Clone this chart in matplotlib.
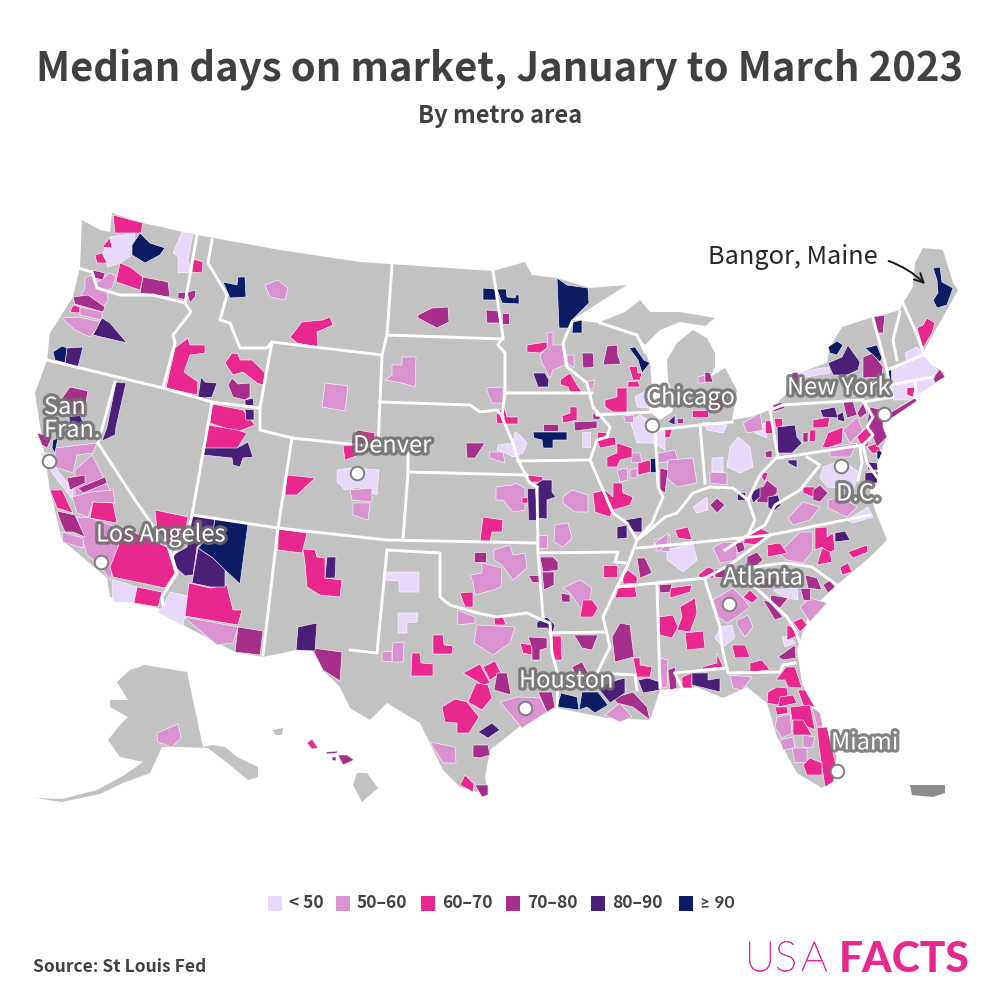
import matplotlib
matplotlib.use("Agg")
import matplotlib.pyplot as plt
import matplotlib.patheffects as pe
from matplotlib.patches import Polygon, FancyArrowPatch

TITLE = "Median days on market, January to March 2023"
SUBTITLE = "By metro area"
SOURCE = "Source: St Louis Fed"

BIN_LABELS = ["< 50", "50–60", "60–70", "70–80", "80–90", "≥ 90"]
BIN_COLORS = ["#E8D8FA", "#D893D0", "#E8288F", "#A52F8A", "#4A1F77", "#0B1C64"]
GRAY = "#C2C2C2"
TEXT = "#404040"
FONT = ["Noto Sans CJK JP", "DejaVu Sans"]

# outlines in pixel positions
mainland = [(82,220),(100,230),(110,232),(112,213),(143,223),(197,235),(280,250),(360,262),(493,271),(525,262),(532,275),(557,278),
    (590,288),(627,285),(600,302),(572,320),(600,323),(637,335),(645,352),(650,363),(652,390),(647,400),(650,412),(660,420),
    (672,412),(675,400),(668,380),(667,360),(677,343),(693,330),(707,338),(715,353),(715,367),(710,377),(725,368),(737,390),
    (732,420),(750,417),(770,410),(785,395),(798,373),(827,363),(830,347),(842,327),(870,318),(900,310),(903,303),(913,287),(915,263),(923,248),(943,250),
    (953,283),(958,290),(943,317),(923,352),(925,362),(937,368),(945,373),(933,385),(910,400),(887,415),(882,425),(887,437),(878,457),
    (877,477),(870,490),(875,510),(887,540),(870,557),(837,585),(810,610),(797,650),(802,683),(820,725),(837,757),(832,780),
    (822,788),(812,782),(797,773),(777,737),(767,703),(747,687),(723,698),(697,687),(660,690),(650,720),(607,718),(557,708),
    (537,713),(490,750),(485,777),(488,795),(460,787),(443,770),(420,723),(387,703),(370,720),(350,708),(340,687),(323,670),
    (310,647),(263,657),(235,652),(183,625),(158,608),(110,597),(107,578),(80,555),(62,540),(50,490),(35,393),(47,360),(50,333),
    (73,297),(80,267)]
upper_peninsula = [(600,322),(625,312),(640,300),(650,312),(680,312),(715,318),(705,326),(680,322),(660,330),(645,345),(637,335)]
alaska = [(145,665),(187,672),(203,747),(212,745),(225,747),(237,757),(258,767),(258,777),(248,780),(230,765),(208,748),(177,747),
    (162,747),(150,773),(123,783),(100,794),(62,802),(35,798),(62,799),(97,790),(123,776),(143,762),(120,757),(108,740),(120,725),
    (128,717),(110,707),(110,700),(128,700),(117,682),(130,670)]
hawaii_big = [(357,773),(367,773),(378,788),(362,802),(353,785)]
hawaii_kauai = [(273,730),(283,728),(282,735),(275,735)]
puerto_rico = [(910,785),(945,785),(945,793),(933,797),(912,795)]

state_lines = [
    [(78,268),(92,272),(97,288),(120,295),(153,295),(185,303)],
    [(197,235),(185,303),(191,312),(173,335),(175,343),(163,388)],
    [(47,360),(163,388),(212,402),(260,408)],
    [(115,382),(98,443),(135,500),(170,550),(177,573),(162,597),(163,605)],
    [(212,402),(192,515),(188,533),(173,555)],
    [(192,515),(278,528),(387,540),(537,543)],
    [(292,438),(278,528),(263,655)],
    [(260,408),(260,430),(292,438),(378,447),(408,450)],
    [(212,240),(208,263),(227,295),(220,320),(230,323),(240,348),(267,348),(272,342),(260,408)],
    [(272,342),(382,355)],
    [(392,265),(387,335),(382,355),(380,402),(378,447)],
    [(387,335),(503,339)],
    [(380,402),(470,405),(480,412),(497,410),(503,417)],
    [(408,450),(408,472),(527,475)],
    [(408,472),(403,540)],
    [(537,487),(538,553),(543,617)],
    [(387,550),(377,653),(350,650)],
    [(387,550),(440,553),(440,597),(450,605),(477,613),(497,617),(527,613),(542,620),(550,623),(552,653),(558,675),(557,707)],
    [(550,633),(603,632)],
    [(538,553),(618,552),(615,562),(625,563)],
    [(572,322),(563,343),(567,367),(587,383),(593,407),(610,427),(607,437),(597,440),(590,460),(603,490),(613,513),(627,523),
     (637,540),(627,567),(617,587),(603,617),(610,647),(597,673),(635,675),(637,690)],
    [(493,271),(503,337),(498,345),(505,353),(505,393),(592,393)],
    [(505,393),(502,417),(513,443),(518,460),(530,483),(537,487)],
    [(518,461),(590,460)],
    [(597,415),(650,412)],
    [(600,323),(637,335),(645,352)],
    [(655,430),(658,487),(663,497),(652,523),(637,540)],
    [(637,540),(650,530),(665,517),(677,513),(693,493),(710,487),(733,488),(748,500),(760,475),(777,457)],
    [(700,425),(705,483)],
    [(655,430),(700,425),(732,422)],
    [(770,410),(778,458),(863,445),(873,435),(867,427),(873,417),(863,400),(783,405)],
    [(770,410),(783,405)],
    [(873,318),(887,370),(890,387),(893,397),(863,402)],
    [(900,312),(893,340),(897,360)],
    [(903,303),(918,337),(923,352)],
    [(887,370),(923,355)],
    [(890,385),(933,377)],
    [(915,380),(915,397)],
    [(807,457),(820,465),(800,490),(775,505),(765,525),(748,535),(725,550)],
    [(748,500),(755,520),(748,535)],
    [(860,447),(862,463),(858,480)],
    [(863,445),(867,463),(877,477)],
    [(637,548),(670,545),(770,535),(870,515)],
    [(730,565),(770,535)],
    [(617,587),(705,578),(730,565)],
    [(753,567),(785,563),(812,567),(837,585)],
    [(753,567),(753,585),(787,617),(795,630),(800,643)],
    [(705,580),(720,627),(722,647),(728,673),(780,672),(783,665),(795,663)],
    [(675,673),(727,668)],
    [(675,673),(682,688)],
    [(657,585),(660,688)],
]

# metro areas by bin, one polygon each
metros_lt50 = [
    [(110,237),(135,233),(132,255),(120,263),(108,267),(103,253)],
    [(182,232),(193,233),(188,260),(192,272),(178,273),(178,257),(173,253)],
    [(40,453),(50,453),(55,467),(73,490),(73,500),(55,477)],
    [(337,470),(350,468),(379,470),(377,495),(358,487),(345,490),(337,482)],
    [(498,445),(513,443),(515,432),(520,435),(527,443),(523,453),(513,457),(505,453),(497,450)],
    [(582,432),(590,432),(590,447),(582,447)],
    [(630,420),(640,415),(665,430),(665,450),(653,443),(637,443)],
    [(635,397),(647,390),(648,408),(637,407)],
    [(798,372),(828,367),(830,373),(800,378)],
    [(892,370),(923,355),(937,370),(933,385),(908,400),(893,400)],
    [(905,353),(917,347),(923,353),(907,362)],
    [(730,447),(738,437),(750,447),(753,467),(740,473),(727,467)],
    [(712,458),(723,457),(723,472),(712,472)],
    [(755,425),(767,423),(767,438),(755,433)],
    [(703,422),(727,425),(723,433),(707,430)],
    [(823,467),(842,460),(860,473),(853,490),(827,487),(820,478)],
    [(693,507),(707,497),(708,510),(697,513)],
    [(847,520),(868,507),(873,517),(853,523)],
    [(667,550),(693,543),(697,560),(683,572),(667,560)],
    [(773,590),(797,588),(798,600),(783,597)],
    [(720,627),(732,625),(735,638),(723,647),(715,638)],
    [(782,637),(790,636),(795,643),(785,647)],
    [(112,579),(137,587),(134,603),(113,602)],
    [(170,592),(188,596),(183,626),(157,612),(163,607)],
    [(385,572),(419,572),(419,592),(399,592),(399,581),(385,580)],
    [(398,613),(418,613),(417,622),(407,623),(407,633),(398,633)],
]
metros_50_60 = [
    [(85,278),(92,275),(98,282),(110,273),(116,276),(112,288),(107,290),(108,300),(103,308),(88,300),(80,297),(85,288)],
    [(62,318),(78,317),(102,322),(97,328),(90,337),(75,330)],
    [(80,307),(102,312),(102,320),(80,315)],
    [(265,285),(278,280),(288,288),(285,300),(270,297)],
    [(325,383),(348,386),(345,411),(322,407)],
    [(55,448),(97,443),(93,453),(77,455),(73,473),(55,467)],
    [(75,470),(92,455),(110,490),(95,510),(75,500)],
    [(77,517),(90,518),(117,527),(122,530),(113,567),(110,580),(100,565),(87,555),(83,540)],
    [(62,532),(73,535),(83,538),(83,548),(63,542)],
    [(184,617),(238,627),(233,643),(217,645)],
    [(72,497),(90,492),(113,490),(115,503),(93,502),(88,517),(77,513)],
    [(157,733),(178,724),(181,738),(172,747),(158,742)],
    [(385,380),(392,375),(392,365),(402,365),(402,357),(416,357),(415,387),(402,383)],
    [(486,388),(503,387),(503,403),(492,403)],
    [(540,355),(548,347),(547,333),(553,332),(553,345),(562,345),(565,365),(553,370),(550,378),(542,363)],
    [(567,355),(574,355),(574,368),(567,363)],
    [(583,382),(595,380),(593,388),(588,390)],
    [(623,415),(633,415),(633,422),(625,422)],
    [(489,452),(503,452),(505,463),(490,458)],
    [(350,490),(372,488),(372,502),(352,500)],
    [(353,503),(370,503),(368,520),(353,515)],
    [(496,487),(513,485),(515,483),(525,488),(525,510),(513,512),(503,500),(496,500)],
    [(563,497),(572,490),(588,495),(588,512),(575,512),(563,503)],
    [(617,470),(627,468),(628,480),(620,482)],
    [(630,453),(640,453),(642,462),(632,463)],
    [(630,470),(637,468),(637,478),(630,478)],
    [(658,453),(675,450),(678,460),(658,463)],
    [(668,463),(680,460),(680,480),(670,480)],
    [(538,535),(547,535),(547,548),(538,548)],
    [(555,525),(568,523),(572,538),(563,547),(554,542)],
    [(494,550),(510,545),(513,555),(525,553),(527,568),(513,580),(502,565),(494,560)],
    [(470,575),(482,573),(482,563),(502,568),(501,587),(493,590),(475,595),(473,582)],
    [(457,610),(475,617),(475,623),(458,625)],
    [(477,625),(515,627),(510,643),(493,655),(474,643)],
    [(393,643),(404,642),(403,662),(392,662)],
    [(382,652),(392,651),(392,662),(382,661)],
    [(563,588),(580,580),(592,588),(588,608),(580,607),(570,593)],
    [(500,702),(517,697),(540,698),(547,712),(522,728)],
    [(430,742),(455,747),(456,763),(443,763)],
    [(605,715),(620,703),(632,717),(620,722)],
    [(654,540),(670,535),(670,552),(655,550)],
    [(713,600),(733,588),(743,598),(750,607),(737,617),(727,623),(718,617)],
    [(737,620),(748,615),(753,627),(745,637),(737,625)],
    [(785,547),(800,532),(813,532),(812,552),(803,563),(787,560),(777,552)],
    [(713,548),(723,542),(737,543),(737,560),(720,563)],
    [(655,543),(668,533),(668,543),(658,552)],
    [(800,607),(810,598),(827,603),(810,622)],
    [(730,675),(752,677),(742,690),(733,688)],
    [(659,658),(668,660),(667,687),(662,688)],
    [(777,717),(790,714),(792,733),(782,738),(775,727)],
    [(812,707),(820,713),(823,727),(817,727)],
    [(780,740),(793,737),(795,748),(783,750)],
    [(803,735),(815,737),(812,748),(803,747)],
    [(792,748),(807,748),(807,762),(795,763)],
    [(788,518),(803,502),(820,507),(810,520),(793,525)],
    [(828,500),(842,497),(857,507),(847,517),(828,508)],
    [(843,430),(857,417),(863,430),(850,443)],
    [(830,447),(857,443),(850,457),(830,457)],
    [(668,460),(693,458),(697,483),(677,487),(667,478)],
    [(743,423),(760,413),(763,430),(747,433)],
    [(698,377),(705,375),(705,383),(698,383)],
    [(710,472),(727,473),(727,485),(710,483)],
]
metros_60_70 = [
    [(113,215),(143,223),(141,233),(115,233)],
    [(102,247),(110,238),(112,248)],
    [(95,255),(102,253),(107,263),(97,263)],
    [(120,263),(130,267),(143,277),(140,290),(116,282)],
    [(193,259),(203,262),(202,273),(192,272)],
    [(70,312),(73,305),(80,307),(79,313)],
    [(290,337),(302,322),(323,320),(330,317),(333,325),(317,332),(318,347),(297,343)],
    [(166,388),(175,348),(188,338),(190,345),(205,345),(205,353),(190,355),(184,372),(198,382),(197,395)],
    [(225,363),(232,353),(238,354),(240,360),(252,360),(265,373),(263,385),(257,383),(243,372),(233,375)],
    [(212,404),(243,410),(255,425),(237,432),(210,423)],
    [(208,425),(237,430),(247,433),(235,452),(205,448)],
    [(287,475),(315,478),(297,495),(285,495)],
    [(357,430),(375,433),(373,450),(345,460),(343,446),(350,445)],
    [(50,490),(62,490),(73,513),(57,508)],
    [(93,502),(113,503),(117,523),(90,518)],
    [(122,527),(167,547),(175,573),(165,588),(113,577),(110,567),(118,547)],
    [(155,510),(188,517),(185,533),(167,547),(157,530)],
    [(137,587),(162,592),(158,607),(134,603)],
    [(189,583),(210,588),(227,585),(233,610),(242,610),(238,625),(185,616)],
    [(278,529),(307,533),(302,553),(278,550)],
    [(303,549),(315,550),(317,557),(325,558),(325,578),(342,580),(340,597),(320,595),(307,587),(305,563)],
    [(307,743),(312,739),(318,748),(312,749)],
    [(527,345),(547,342),(547,348),(540,353),(527,352)],
    [(560,380),(570,373),(577,385),(582,392),(570,392),(568,387),(561,385)],
    [(605,400),(617,397),(617,388),(627,388),(627,412),(613,412),(605,407)],
    [(629,367),(637,366),(638,373),(642,373),(640,380),(633,380)],
    [(628,382),(638,381),(640,387),(628,387)],
    [(570,407),(577,407),(577,420),(563,423),(562,416),(570,413)],
    [(496,415),(504,405),(507,417),(518,417),(518,424),(507,424),(497,423)],
    [(598,432),(607,433),(605,438),(615,437),(616,445),(600,448),(597,440)],
    [(607,457),(617,453),(617,443),(632,448),(632,457),(620,460),(617,467),(607,467)],
    [(638,463),(650,460),(651,472),(638,475)],
    [(527,475),(543,477),(542,482),(527,482)],
    [(522,498),(528,497),(528,503),(522,503)],
    [(593,493),(605,490),(613,497),(613,483),(622,483),(623,493),(633,497),(630,505),(613,510),(610,517),(595,512)],
    [(483,517),(503,520),(502,532),(492,532),(490,542),(480,542)],
    [(460,593),(473,592),(473,607),(465,607)],
    [(494,618),(503,617),(506,625),(495,625)],
    [(433,635),(443,635),(444,645),(453,646),(452,654),(433,654)],
    [(412,653),(420,653),(421,663),(433,664),(433,676),(411,676)],
    [(463,673),(480,664),(490,683),(483,685)],
    [(483,667),(495,661),(501,673),(490,680)],
    [(476,683),(488,685),(492,698),(482,710),(468,702)],
    [(442,707),(455,699),(467,702),(479,717),(469,733),(457,733),(457,723),(445,722)],
    [(460,785),(465,775),(474,784),(473,792)],
    [(520,643),(532,645),(532,655),(523,653)],
    [(552,636),(561,636),(562,660),(553,660)],
    [(603,565),(617,565),(617,577),(603,577)],
    [(623,575),(628,570),(637,577),(637,583),(623,584)],
    [(618,588),(635,587),(637,597),(615,598)],
    [(583,600),(592,600),(598,608),(593,617),(580,617)],
    [(633,658),(640,658),(640,665),(652,667),(650,677),(637,677)],
    [(659,617),(673,615),(678,627),(672,638),(660,635)],
    [(680,607),(695,598),(697,613),(690,632),(677,630),(682,617)],
    [(685,633),(703,631),(705,648),(687,650)],
    [(670,588),(692,585),(690,592),(670,598)],
    [(732,645),(745,645),(750,657),(735,658)],
    [(702,667),(717,663),(717,653),(723,667),(703,669)],
    [(750,663),(762,660),(770,670),(750,672)],
    [(682,677),(692,673),(692,688),(682,688)],
    [(698,575),(708,567),(715,570),(713,578),(700,578)],
    [(743,597),(750,590),(758,598),(752,603)],
    [(747,535),(760,528),(770,533),(758,545),(743,543)],
    [(675,530),(688,527),(692,540),(678,538)],
    [(767,545),(780,543),(787,553),(768,557)],
    [(815,528),(827,527),(827,537),(833,533),(835,550),(827,553),(822,547),(815,550)],
    [(822,548),(830,552),(832,562),(817,565)],
    [(848,552),(867,545),(868,552),(853,558)],
    [(840,567),(848,563),(852,572),(842,575)],
    [(787,625),(792,627),(800,635),(787,640)],
    [(793,622),(802,618),(807,625),(800,632)],
    [(786,667),(795,667),(802,688),(788,687),(785,680),(776,680)],
    [(768,692),(777,687),(787,688),(788,695),(778,705),(767,703)],
    [(798,690),(805,690),(815,707),(803,705)],
    [(780,697),(793,695),(797,703),(778,707)],
    [(775,707),(787,707),(788,713),(777,715)],
    [(790,707),(810,705),(815,730),(792,720)],
    [(793,720),(803,720),(812,735),(793,735)],
    [(817,728),(827,727),(837,770),(833,782),(825,787),(819,747)],
    [(803,765),(810,758),(822,763),(822,775),(807,775)],
    [(917,328),(923,325),(927,318),(935,323),(932,333),(923,348)],
    [(907,388),(915,387),(913,397),(907,395)],
    [(813,420),(830,417),(828,427),(813,428)],
    [(765,420),(772,420),(772,433),(765,433)],
    [(774,418),(782,418),(782,427),(775,427)],
    [(810,430),(816,430),(815,442),(809,441)],
    [(822,448),(828,433),(843,427),(842,443),(830,447)],
    [(857,437),(867,427),(873,433),(867,447),(860,443)],
    [(803,487),(815,487),(813,497),(803,493)],
    [(867,447),(877,443),(882,453),(872,453)],
    [(692,410),(708,410),(708,417),(692,417)],
    [(665,428),(672,429),(670,437),(665,438)],
    [(762,472),(768,473),(765,482),(762,478)],
]
metros_70_80 = [
    [(92,270),(105,273),(103,280),(95,278)],
    [(143,277),(168,282),(170,297),(140,293)],
    [(73,297),(88,295),(105,307),(103,312),(75,304)],
    [(178,293),(185,292),(187,300),(178,298)],
    [(187,292),(196,290),(195,297),(190,303)],
    [(228,385),(232,378),(238,384),(250,383),(250,397),(245,400),(233,397)],
    [(70,387),(88,391),(85,408),(73,415),(62,398)],
    [(37,433),(52,437),(47,448),(42,445)],
    [(67,478),(85,475),(85,483),(70,490)],
    [(78,488),(105,477),(107,483),(83,493)],
    [(57,511),(75,515),(85,537),(73,532),(65,532),(61,523)],
    [(238,627),(263,631),(260,655),(235,652)],
    [(312,648),(342,652),(340,681),(323,670)],
    [(338,755),(347,755),(354,760),(343,765)],
    [(326,752),(338,751),(337,753),(327,754)],
    [(332,757),(336,757),(336,761),(332,760)],
    [(418,315),(432,308),(448,307),(449,322),(437,328),(418,318)],
    [(486,310),(498,311),(500,323),(487,323)],
    [(502,313),(509,313),(509,324),(502,324)],
    [(582,353),(593,353),(594,367),(583,368)],
    [(607,346),(617,345),(618,356),(621,364),(603,365)],
    [(543,424),(558,424),(558,431),(543,431)],
    [(574,422),(597,421),(597,428),(575,431)],
    [(593,413),(602,417),(598,420),(593,419)],
    [(466,443),(485,443),(475,458),(467,458)],
    [(660,468),(668,470),(665,493),(660,490)],
    [(474,552),(486,552),(486,562),(474,562)],
    [(540,557),(553,557),(558,562),(558,570),(543,572)],
    [(542,572),(554,572),(554,585),(544,590)],
    [(528,575),(540,575),(540,582),(532,582)],
    [(561,593),(570,595),(570,602),(562,602)],
    [(637,558),(645,558),(652,573),(640,578)],
    [(528,637),(547,638),(547,648),(540,650),(540,660),(532,660),(532,648)],
    [(574,635),(598,635),(592,650),(582,648)],
    [(620,623),(630,625),(634,657),(615,662),(612,637)],
    [(572,667),(582,662),(588,673),(577,678)],
    [(497,673),(507,673),(511,695),(494,690)],
    [(473,745),(488,745),(490,755),(480,758),(473,757)],
    [(475,785),(488,785),(488,795),(482,797)],
    [(538,692),(552,692),(555,707),(547,712)],
    [(613,698),(633,692),(647,707),(650,720),(633,707),(617,703)],
    [(747,557),(757,552),(763,560),(755,567),(747,563)],
    [(735,543),(743,542),(745,550),(738,553)],
    [(659,585),(672,584),(670,592),(660,593)],
    [(715,569),(727,569),(725,578),(715,577)],
    [(757,578),(777,578),(773,588),(760,588)],
    [(805,575),(817,578),(822,590),(808,588)],
    [(823,585),(830,580),(835,587),(828,593)],
    [(800,588),(810,588),(810,600),(803,600)],
    [(771,595),(788,598),(780,608),(770,603)],
    [(763,600),(770,602),(783,617),(775,620)],
    [(778,657),(795,645),(796,658),(783,660)],
    [(668,670),(675,667),(677,688),(670,690)],
    [(792,373),(798,372),(798,393),(792,390)],
    [(773,405),(782,402),(785,408),(773,412)],
    [(873,317),(885,315),(883,333),(877,333)],
    [(863,357),(873,353),(883,367),(882,377),(863,378)],
    [(870,407),(883,410),(883,427),(887,437),(877,447),(867,423)],
    [(888,414),(915,398),(917,401),(892,418)],
    [(933,378),(940,369),(945,377),(935,383)],
    [(843,402),(853,401),(857,415),(847,418)],
    [(857,413),(863,403),(867,413),(860,418)],
    [(757,487),(763,487),(767,480),(777,488),(777,493),(767,503),(757,502)],
    [(813,490),(820,485),(828,493),(820,502),(813,500)],
    [(710,505),(717,498),(725,505),(717,513)],
    [(803,433),(808,432),(808,442),(803,442)],
    [(765,452),(772,450),(772,458),(766,457)],
    [(677,418),(683,418),(683,423),(677,423)],
    [(705,372),(710,373),(713,382),(705,382)],
    [(710,393),(727,397),(722,410),(710,407)],
]
metros_80_90 = [
    [(102,318),(110,323),(127,343),(93,335)],
    [(67,348),(83,347),(78,367),(65,363)],
    [(116,382),(126,383),(116,427),(115,435),(102,441),(107,427)],
    [(69,417),(80,415),(85,427),(70,427)],
    [(198,397),(201,377),(205,382),(217,383),(212,397),(205,398)],
    [(245,400),(253,398),(254,406),(245,405)],
    [(245,409),(254,410),(254,420),(246,420)],
    [(237,448),(248,442),(253,457),(243,458),(240,467),(233,465),(232,458),(203,455),(205,448)],
    [(533,373),(545,373),(549,380),(548,387),(538,387)],
    [(527,488),(536,488),(536,520),(528,520)],
    [(535,485),(542,480),(552,480),(552,492),(556,497),(547,500),(547,519),(538,518)],
    [(670,423),(675,415),(676,425)],
    [(192,515),(215,519),(213,532),(197,547),(193,575),(185,576),(173,565),(173,555),(187,547)],
    [(198,548),(213,558),(225,568),(225,587),(210,587),(192,583)],
    [(327,557),(336,557),(335,578),(325,578)],
    [(298,627),(317,623),(315,651),(296,650)],
    [(617,527),(627,525),(627,538),(617,539)],
    [(625,520),(642,517),(642,532),(633,532)],
    [(537,622),(547,617),(555,625),(553,632),(547,628),(537,628)],
    [(478,732),(492,723),(500,730),(488,738)],
    [(598,688),(617,680),(625,678),(625,693),(610,703)],
    [(638,680),(648,678),(660,682),(660,690),(643,693)],
    [(692,673),(708,673),(708,680),(720,678),(720,692),(692,685)],
    [(835,533),(845,531),(850,540),(835,542)],
    [(828,363),(842,357),(848,345),(860,362),(858,370),(847,375),(833,375)],
    [(820,410),(835,407),(838,418),(823,417)],
    [(837,415),(843,412),(845,422),(838,420)],
    [(777,427),(795,425),(797,437),(802,443),(792,453),(778,453)],
    [(788,460),(797,460),(797,468),(788,463)],
    [(737,492),(745,492),(745,500),(737,500)],
    [(768,497),(778,495),(781,505),(773,512),(768,507)],
    [(750,493),(760,487),(760,497),(753,503)],
    [(867,462),(877,463),(878,470),(868,470)],
    [(865,473),(878,472),(877,483),(865,483)],
    [(668,422),(675,415),(675,425)],
]
metros_ge90 = [
    [(132,245),(140,233),(150,243),(165,248),(160,255),(145,263),(132,255)],
    [(53,352),(62,346),(67,348),(65,363),(55,360)],
    [(223,282),(237,285),(238,277),(245,277),(246,297),(230,298)],
    [(53,440),(58,438),(55,453),(52,448)],
    [(215,519),(248,524),(240,584),(225,570),(213,558),(198,548),(213,532)],
    [(483,288),(495,289),(497,300),(483,300)],
    [(497,289),(506,289),(507,297),(515,298),(516,295),(519,295),(519,304),(502,303)],
    [(557,278),(567,285),(588,288),(589,303),(572,320),(570,328),(559,328)],
    [(573,322),(582,320),(582,333),(572,333)],
    [(629,348),(635,347),(644,360),(650,363),(642,373),(638,360)],
    [(533,432),(567,432),(567,440),(553,440),(553,448),(543,448),(542,440),(534,438)],
    [(650,458),(656,458),(656,472),(650,472)],
    [(557,707),(561,693),(577,697),(579,710)],
    [(579,710),(582,692),(598,692),(608,705),(595,713),(587,707)],
    [(933,268),(940,267),(942,282),(953,288),(947,305),(937,308),(933,300),(938,293),(937,280)],
    [(828,347),(837,341),(843,345),(837,355),(830,353)],
    [(865,348),(877,345),(882,358),(880,362),(873,355)],
    [(887,368),(891,368),(892,387),(887,387)],
    [(877,450),(882,452),(879,460),(877,458)],
]
metro_bins = [metros_lt50, metros_50_60, metros_60_70, metros_70_80, metros_80_90, metros_ge90]

# labelled cities: name, label position, marker position
cities = ["San\nFran.", "Denver", "Chicago", "New York", "D.C.", "Los Angeles", "Atlanta", "Houston", "Miami"]
city_label_x = [44, 353, 646, 787, 836, 96, 723, 519, 831]
city_label_y = [419, 446, 398, 388, 494, 535, 578, 681, 743]
city_marker_x = [49, 357, 652, 884, 841, 101, 729, 525, 837]
city_marker_y = [461, 473, 425, 414, 466, 562, 604, 708, 771]

legend_x = [268, 336, 421, 506, 591, 679]
logo_usa_x = [745, 775, 801]

fig = plt.figure(figsize=(10, 10), dpi=100)
ax = fig.add_axes([0, 0, 1, 1])
ax.set_xlim(0, 1000)
ax.set_ylim(1000, 0)
ax.axis("off")

for shape in [mainland, upper_peninsula, alaska, hawaii_big, hawaii_kauai]:
    ax.add_patch(Polygon(shape, closed=True, fc=GRAY, ec="none", zorder=1))
ax.add_patch(Polygon(puerto_rico, closed=True, fc="#8C8C8C", ec="none", zorder=1))

for color, shapes in zip(BIN_COLORS, metro_bins):
    for shape in shapes:
        ax.add_patch(Polygon(shape, closed=True, fc=color, ec="white", lw=0.4, zorder=2))

for line in state_lines:
    xs, ys = zip(*line)
    ax.plot(xs, ys, color="white", lw=2.1, solid_joinstyle="round", zorder=3)

ax.scatter(city_marker_x, city_marker_y, s=95, fc="white", ec="#7F7F7F", lw=1.4, zorder=5)

halo = [pe.withStroke(linewidth=4.5, foreground="#6E6E6E", alpha=0.85)]
for name, x, y in zip(cities, city_label_x, city_label_y):
    ax.text(x, y, name, family=FONT, fontsize=17, color="white", va="center", ha="left",
            linespacing=1.0, path_effects=halo, zorder=6)

ax.text(500, 70, TITLE, family=FONT, fontweight="bold", fontsize=28.8, color=TEXT, ha="center", va="center")
ax.text(500, 116, SUBTITLE, family=FONT, fontweight="bold", fontsize=17, color=TEXT, ha="center", va="center")

ax.text(708, 257, "Bangor, Maine", family=FONT, fontsize=18.2, color="#262626", ha="left", va="center")
ax.add_patch(FancyArrowPatch((886, 260), (927, 286), connectionstyle="arc3,rad=-0.12", arrowstyle="->",
                             mutation_scale=16, lw=1.4, color="#1A1A1A", zorder=6))

for x, color, label in zip(legend_x, BIN_COLORS, BIN_LABELS):
    ax.add_patch(Polygon([(x, 896), (x + 14, 896), (x + 14, 911), (x, 911)], closed=True, fc=color, ec="none"))
    # the CJK family draws the sign full width, Lato has a narrow one
    family = ["Lato"] if label.startswith("≥") else FONT
    ax.text(x + 21, 903.5, label, family=family, fontweight="bold", fontsize=12.5, color=TEXT, ha="left", va="center")

ax.text(33, 967, SOURCE, family=FONT, fontweight="bold", fontsize=12.5, color=TEXT, ha="left", va="center")

thicken = [pe.withStroke(linewidth=0.5, foreground="#E8288F")]
for x, letter in zip(logo_usa_x, "USA"):
    ax.text(x, 960, letter, family="Lato", fontweight="light", fontsize=30, color="#E8288F", ha="left", va="center",
            path_effects=thicken)
ax.text(969, 960, "FACTS", family="Lato", fontweight="black", fontsize=30.5, color="#E8288F", ha="right", va="center")

fig.savefig("out.png", dpi=100)
